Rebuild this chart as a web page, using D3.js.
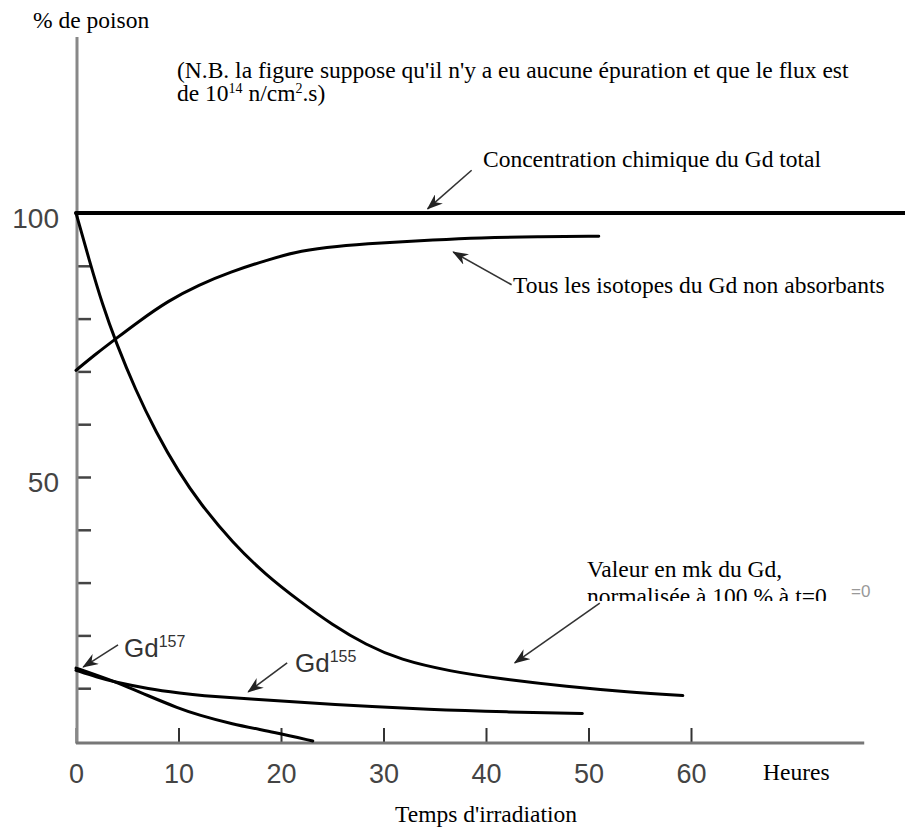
<!DOCTYPE html>
<html>
<head>
<meta charset="utf-8">
<script src="https://cdn.jsdelivr.net/npm/d3@7"></script>
<style>
  body { margin: 0; background: #fff; }
  .serif { font-family: 'Liberation Serif', 'Times New Roman', serif; font-size: 23.5px; fill: #000; }
  .sans { font-family: 'Liberation Sans', Arial, sans-serif; }
</style>
</head>
<body>
<div id="divChart"></div>
<script>
// values (time in hours, value in % of poison)
var xTickValues = [0, 10, 20, 30, 40, 50, 60]
var yTickValues = [10, 20, 30, 40, 50, 60, 70, 80, 90, 100]
var yTickLabels = ['50', '100']

// total chemical concentration of Gd
var tTotal = [0, 81]
var vTotal = [100, 100]

// all non absorbing Gd isotopes
var tNonAbs = [0, 2, 3.9, 6, 9, 12, 15, 18.8, 22, 25.3, 29.6, 35, 39.3, 45, 51]
var vNonAbs = [70.2, 73.4, 76.2, 79.3, 83.4, 86.4, 88.8, 91.2, 92.9, 93.7, 94.3, 94.9, 95.3, 95.5, 95.6]

// value in mk of Gd, normalised at 100 % for t=0
var tMk = [0, 1.3, 2.6, 3.9, 5.8, 7.8, 10, 12.1, 15.3, 18.5, 21.8, 25, 28.3, 31.6, 36.5, 41.3, 47.9, 54.3, 59.2]
var vMk = [100, 91, 82.5, 75.5, 66.5, 58.5, 51, 45, 37.5, 31.5, 26.5, 22, 18.2, 15.4, 13.2, 11.8, 10.3, 9.2, 8.6]

// Gd155
var tGd155 = [0, 2, 3.9, 7, 10.4, 12, 16.9, 25, 34.8, 42, 49.4]
var vGd155 = [13.4, 12.1, 11.1, 9.9, 9.0, 8.6, 8.0, 6.9, 5.9, 5.5, 5.2]

// Gd157
var tGd157 = [0, 2, 4, 7, 10, 12, 15, 19.5, 23.1]
var vGd157 = [13.8, 12.5, 11.1, 8.6, 6.2, 4.9, 3.3, 1.6, 0]

// arrows of the annotations, tail -> head in data units
var arrowTail = [[38.6, 108.1], [42.5, 86.4], [51.1, 26.1], [20.6, 14.8], [4.1, 18.2]]
var arrowHead = [[34.3, 100.8], [36.8, 92.6], [42.8, 14.8], [16.8, 9.3], [0.7, 14.0]]

// global store for the chart
var chart = {}

function initChart () {
  chart.width = 905
  chart.height = 828
  chart.xScale = d3.scaleLinear().domain([0, 60]).range([76, 691])
  chart.yScale = d3.scaleLinear().domain([0, 100]).range([741, 213])

  chart.svg = d3
    .select('#divChart')
    .append('svg')
    .attr('width', chart.width)
    .attr('height', chart.height)

  // arrow head used by the annotations
  var defs = chart.svg.append('defs')
  defs.append('marker')
    .attr('id', 'arrowHead')
    .attr('markerUnits', 'userSpaceOnUse')
    .attr('markerWidth', 16)
    .attr('markerHeight', 12)
    .attr('refX', 15)
    .attr('refY', 6)
    .attr('orient', 'auto')
    .append('path')
    .attr('d', 'M0,0 L16,6 L0,12 L5,6 Z')
    .attr('fill', '#222')

  // the second line of the mk label is cut at its bottom in the figure
  defs.append('clipPath')
    .attr('id', 'clipValeur')
    .append('rect')
    .attr('x', 0)
    .attr('y', 0)
    .attr('width', chart.width)
    .attr('height', 601)
}

function drawAxes () {
  var svg = chart.svg

  // y axis, ticks pointing inside the plot
  var yAxis = d3.axisLeft(chart.yScale)
    .tickValues(yTickValues)
    .tickSizeInner(-15)
    .tickSizeOuter(0)
    .tickPadding(17)
    .tickFormat(function (d) {
      return yTickLabels.indexOf(String(d)) >= 0 ? d : ''
    })
  var gy = svg.append('g')
    .attr('transform', 'translate(' + chart.xScale(0) + ',0)')
    .call(yAxis)
  gy.select('.domain').remove()
  gy.selectAll('.tick line').attr('stroke', '#444').attr('stroke-width', 2.5)
  gy.selectAll('.tick text')
    .attr('class', 'sans')
    .attr('font-size', 28)
    .attr('fill', '#444')
    .attr('dy', 14)

  // x axis, ticks pointing up
  var xAxis = d3.axisBottom(chart.xScale)
    .tickValues(xTickValues)
    .tickSizeInner(-15)
    .tickSizeOuter(0)
    .tickFormat(d3.format('d'))
  var gx = svg.append('g')
    .attr('transform', 'translate(0,743)')
    .call(xAxis)
  gx.select('.domain').remove()
  gx.selectAll('.tick line').attr('stroke', '#333').attr('stroke-width', 2)
  gx.selectAll('.tick text')
    .attr('class', 'sans')
    .attr('font-size', 27)
    .attr('fill', '#444')
    .attr('y', 40)
    .attr('dy', 0)

  // axis lines
  svg.append('line')
    .attr('x1', 77).attr('x2', 77)
    .attr('y1', 37).attr('y2', 744)
    .attr('stroke', '#888')
    .attr('stroke-width', 3)
  svg.append('line')
    .attr('x1', 76).attr('x2', chart.xScale(76.9))
    .attr('y1', 743).attr('y2', 743)
    .attr('stroke', '#777')
    .attr('stroke-width', 3)
}

function drawCurves () {
  var line = d3.line()
    .x(function (d) { return chart.xScale(d[0]) })
    .y(function (d) { return chart.yScale(d[1]) })
    .curve(d3.curveBasis)

  var series = [
    { t: tTotal, v: vTotal, w: 4 },
    { t: tNonAbs, v: vNonAbs, w: 3 },
    { t: tMk, v: vMk, w: 3 },
    { t: tGd155, v: vGd155, w: 3 },
    { t: tGd157, v: vGd157, w: 3 }
  ]

  chart.svg.append('g')
    .selectAll('path')
    .data(series)
    .enter()
    .append('path')
    .attr('d', function (s) {
      return line(s.t.map(function (t, i) { return [t, s.v[i]] }))
    })
    .attr('fill', 'none')
    .attr('stroke', '#000')
    .attr('stroke-width', function (s) { return s.w })
    .attr('stroke-linecap', 'round')
}

function drawAnnotations () {
  var svg = chart.svg

  // arrows
  svg.append('g')
    .selectAll('line')
    .data(arrowTail)
    .enter()
    .append('line')
    .attr('x1', function (d) { return chart.xScale(d[0]) })
    .attr('y1', function (d) { return chart.yScale(d[1]) })
    .attr('x2', function (d, i) { return chart.xScale(arrowHead[i][0]) })
    .attr('y2', function (d, i) { return chart.yScale(arrowHead[i][1]) })
    .attr('stroke', '#333')
    .attr('stroke-width', 1.6)
    .attr('marker-end', 'url(#arrowHead)')

  // axis titles
  svg.append('text').attr('class', 'serif').attr('x', 33).attr('y', 28).text('% de poison')
  svg.append('text').attr('class', 'serif').attr('x', 763).attr('y', 780).text('Heures')
  svg.append('text').attr('class', 'serif').attr('x', 395).attr('y', 822).text("Temps d'irradiation")

  // note at the top
  svg.append('text').attr('class', 'serif').attr('x', 177).attr('y', 78)
    .text("(N.B. la figure suppose qu'il n'y a eu aucune épuration et que le flux est")
  var note = svg.append('text').attr('class', 'serif').attr('x', 177).attr('y', 101)
  note.append('tspan').text('de 10')
  note.append('tspan').attr('dy', -8).attr('font-size', 14).text('14')
  note.append('tspan').attr('dy', 8).text(' n/cm')
  note.append('tspan').attr('dy', -8).attr('font-size', 14).text('2')
  note.append('tspan').attr('dy', 8).text('.s)')

  // curve labels
  svg.append('text').attr('class', 'serif').attr('x', 483).attr('y', 167)
    .text('Concentration chimique du Gd total')
  svg.append('text').attr('class', 'serif').attr('x', 513).attr('y', 293)
    .text('Tous les isotopes du Gd non absorbants')

  var valeur = svg.append('g').attr('clip-path', 'url(#clipValeur)')
  valeur.append('text').attr('class', 'serif').attr('x', 587).attr('y', 577)
    .text('Valeur en mk du Gd,')
  valeur.append('text').attr('class', 'serif').attr('x', 587).attr('y', 604)
    .text('normalisée à 100 % à t=0')
  svg.append('text').attr('class', 'sans').attr('x', 851).attr('y', 597)
    .attr('font-size', 17).attr('fill', '#999').text('=0')

  // isotope labels
  var gdLabels = [
    { x: 124, y: 657, iso: '157' },
    { x: 295, y: 672, iso: '155' }
  ]
  var g = svg.append('g')
    .selectAll('text')
    .data(gdLabels)
    .enter()
    .append('text')
    .attr('class', 'sans')
    .attr('x', function (d) { return d.x })
    .attr('y', function (d) { return d.y })
    .attr('font-size', 26)
    .attr('fill', '#333')
  g.append('tspan').text('Gd')
  g.append('tspan')
    .attr('dy', -10)
    .attr('font-size', 16)
    .text(function (d) { return d.iso })
}

initChart()
drawAxes()
drawCurves()
drawAnnotations()
</script>
</body>
</html>
